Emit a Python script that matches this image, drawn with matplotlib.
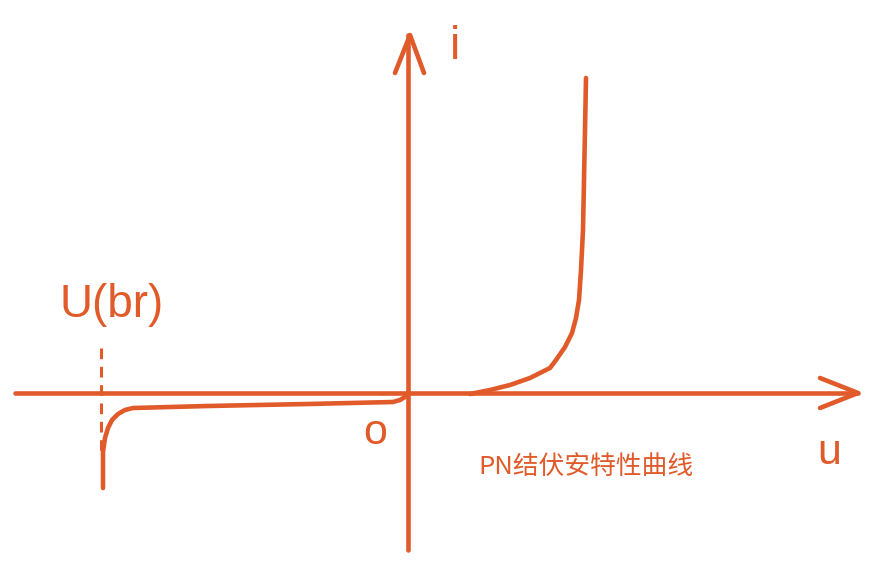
import matplotlib.pyplot as plt

plt.rcParams['font.family'] = ['Noto Sans CJK SC', 'DejaVu Sans']

COLOR = "#E05A2A"

# curve samples, in sketch units (origin at the axes crossing, y up)
fwd_u = [62, 82, 102, 122, 142, 148, 157, 164, 168, 171, 173, 175, 176, 177, 178]
fwd_i = [-1, 3, 8, 15, 25, 33, 46, 60, 75, 93, 123, 163, 213, 263, 315]
rev_u = [0, -3, -8, -15, -100, -200, -275, -283, -290, -296, -300, -303, -305, -305]
rev_i = [0, -4, -7, -9, -11, -13, -15, -17, -21, -27, -35, -45, -59, -95]
breakdown_u = -307

fig = plt.figure(figsize=(8.86, 5.84), dpi=100)
ax = fig.add_axes([0, 0, 1, 1])
ax.set_xlim(-408, 478)
ax.set_ylim(-191, 393)
ax.axis("off")

lw = 3.3
style = dict(color=COLOR, lw=lw, solid_capstyle="round", solid_joinstyle="round")

# axes drawn as sketch lines with open arrow heads
ax.plot([-393, 450], [0, 0], **style)
ax.plot([412, 450, 412], [15, 0, -15], **style)
ax.plot([0, 0], [-157, 358], **style)
ax.plot([-13, 2, 16], [320, 358, 320], **style)

ax.plot(fwd_u, fwd_i, **style)
ax.plot(rev_u, rev_i, **style)
ax.plot([breakdown_u, breakdown_u], [45, -62], color=COLOR, lw=2.2, ls=(0, (3.5, 2.5)))

latin = ["Liberation Sans", "DejaVu Sans"]
ax.text(-296, 88, "U(br)", color=COLOR, fontsize=33, ha="center", va="center", family=latin)
ax.text(47, 346, "i", color=COLOR, fontsize=33, ha="center", va="center", family=latin)
ax.text(-33, -40, "o", color=COLOR, fontsize=31, ha="center", va="center", family=latin)
ax.text(421, -60, "u", color=COLOR, fontsize=31, ha="center", va="center", family=latin)
ax.text(70, -74, "PN结伏安特性曲线", color=COLOR, fontsize=18.5, ha="left", va="center")

fig.savefig("out.png", dpi=100)
